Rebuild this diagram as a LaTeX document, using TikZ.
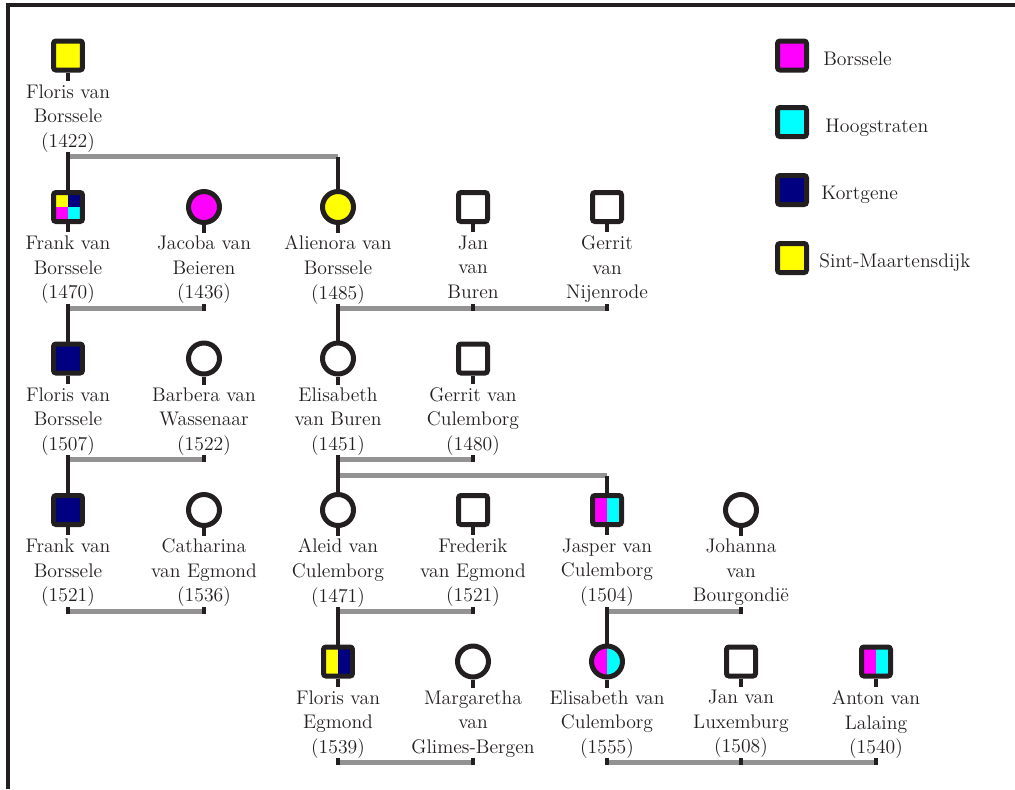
\documentclass[tikz,border=0pt]{standalone}
\usepackage{tikz}

\definecolor{borssele}{RGB}{255,0,255}
\definecolor{hoogstraten}{RGB}{0,255,255}
\definecolor{kortgene}{RGB}{0,0,128}
\definecolor{sintmaartensdijk}{RGB}{255,255,0}
\definecolor{inkt}{RGB}{35,31,32}
\definecolor{huwelijk}{RGB}{147,147,147}

\begin{document}
\begin{tikzpicture}[x=0.02cm, y=-0.02cm,
	man/.style = {draw=inkt, line width=1mm, rectangle, rounded corners=0.5mm, minimum size=5.8mm, inner sep=0pt},
	vrouw/.style = {draw=inkt, line width=1mm, circle, minimum size=6.2mm, inner sep=0pt},
	naam/.style = {anchor=north, align=center, inner sep=0pt, text=inkt, font=\fontsize{11.2}{14}\selectfont, execute at begin node=\strut},
	legenda/.style = {anchor=base west, inner sep=0pt, text=inkt, font=\fontsize{11.2}{14}\selectfont},
	huw/.style = {draw=huwelijk, line width=1mm},
	lijn/.style = {draw=inkt, line width=0.8mm},]
		\useasboundingbox (0,0) rectangle (1015,789);
		\draw[inkt, line width=0.8mm] (8,789) -- (8,5) -- (1015,5);

		% gedeelde kleuren
		\fill[sintmaartensdijk] (53.5,192.5) rectangle (68,207);
		\fill[kortgene] (68,192.5) rectangle (82.5,207);
		\fill[borssele] (53.5,207) rectangle (68,221.5);
		\fill[hoogstraten] (68,207) rectangle (82.5,221.5);
		\fill[borssele] (592.5,495.5) rectangle (607,524.5);
		\fill[hoogstraten] (607,495.5) rectangle (621.5,524.5);
		\fill[sintmaartensdijk] (323.5,647) rectangle (338,676);
		\fill[kortgene] (338,647) rectangle (352.5,676);
		\fill[borssele] (861.5,647) rectangle (876,676);
		\fill[hoogstraten] (876,647) rectangle (890.5,676);
		\begin{scope}
			\clip (607,661.5) circle[radius=15.5];
			\fill[borssele] (590,645) rectangle (607,678);
			\fill[hoogstraten] (607,645) rectangle (624,678);
		\end{scope}

		\node[man, fill=sintmaartensdijk] (floris1) at (68,55.5) {};
		\node[naam] (floris1-t) at (68,84) {Floris van\\Borssele\\(1422)};

		\node[man] (frank1) at (68,207) {};
		\node[naam] (frank1-t) at (68,235.5) {Frank van\\Borssele\\(1470)};
		\node[vrouw, fill=borssele] (jacoba) at (204,207) {};
		\node[naam] (jacoba-t) at (204,235.5) {Jacoba van\\Beieren\\(1436)};
		\node[vrouw, fill=sintmaartensdijk] (alienora) at (338,207) {};
		\node[naam] (alienora-t) at (338,235.5) {Alienora van\\Borssele\\(1485)};
		\node[man, fill=white] (janburen) at (473,207) {};
		\node[naam] (janburen-t) at (473,235.5) {Jan\\van\\Buren};
		\node[man, fill=white] (gerritn) at (607,207) {};
		\node[naam] (gerritn-t) at (607,235.5) {Gerrit\\van\\Nijenrode};

		\node[man, fill=kortgene] (floris2) at (68,358.5) {};
		\node[naam] (floris2-t) at (68,387) {Floris van\\Borssele\\(1507)};
		\node[vrouw, fill=white] (barbera) at (204,358.5) {};
		\node[naam] (barbera-t) at (204,387) {Barbera van\\Wassenaar\\(1522)};
		\node[vrouw, fill=white] (elisabeth1) at (338,358.5) {};
		\node[naam] (elisabeth1-t) at (338,387) {Elisabeth\\van Buren\\(1451)};
		\node[man, fill=white] (gerritc) at (473,358.5) {};
		\node[naam] (gerritc-t) at (473,387) {Gerrit van\\Culemborg\\(1480)};

		\node[man, fill=kortgene] (frank2) at (68,510) {};
		\node[naam] (frank2-t) at (68,538.5) {Frank van\\Borssele\\(1521)};
		\node[vrouw, fill=white] (catharina) at (204,510) {};
		\node[naam] (catharina-t) at (204,538.5) {Catharina\\van Egmond\\(1536)};
		\node[vrouw, fill=white] (aleid) at (338,510) {};
		\node[naam] (aleid-t) at (338,538.5) {Aleid van\\Culemborg\\(1471)};
		\node[man, fill=white] (frederik) at (473,510) {};
		\node[naam] (frederik-t) at (473,538.5) {Frederik\\van Egmond\\(1521)};
		\node[man] (jasper) at (607,510) {};
		\node[naam] (jasper-t) at (607,538.5) {Jasper van\\Culemborg\\(1504)};
		\node[vrouw, fill=white] (johanna) at (741,510) {};
		\node[naam] (johanna-t) at (741,538.5) {Johanna\\van\\Bourgondië};

		\node[man] (floris3) at (338,661.5) {};
		\node[naam] (floris3-t) at (338,690) {Floris van\\Egmond\\(1539)};
		\node[vrouw, fill=white] (margaretha) at (473,661.5) {};
		\node[naam] (margaretha-t) at (473,690) {Margaretha\\van\\Glimes-Bergen};
		\node[vrouw] (elisabeth2) at (607,661.5) {};
		\node[naam] (elisabeth2-t) at (607,690) {Elisabeth van\\Culemborg\\(1555)};
		\node[man, fill=white] (janlux) at (741,661.5) {};
		\node[naam] (janlux-t) at (741,690) {Jan van\\Luxemburg\\(1508)};
		\node[man] (anton) at (876,661.5) {};
		\node[naam] (anton-t) at (876,690) {Anton van\\Lalaing\\(1540)};

		\foreach \p in {floris1, frank1, jacoba, alienora, janburen, gerritn, floris2, barbera, elisabeth1, gerritc, frank2, catharina, aleid, frederik, jasper, johanna, floris3, margaretha, elisabeth2, janlux, anton}
			\draw[lijn] (\p.south) -- ++(0,8);

		\foreach \p in {floris1, frank1, jacoba, alienora, janburen, gerritn, floris2, barbera, elisabeth1, gerritc, frank2, catharina, aleid, frederik, jasper, johanna, floris3, margaretha, elisabeth2, janlux, anton}
			\path (\p) ++(0,101) coordinate (\p-h);
		\path (elisabeth1) ++(0,117) coordinate (elisabeth1-h2);
		\coordinate (alienora-k) at (floris1-h -| alienora);
		\coordinate (jasper-k) at (elisabeth1-h2 -| jasper);

		\draw[huw] (floris1-h) -- (alienora-k);
		\draw[huw] (frank1-h) -- (jacoba-h);
		\draw[huw] (alienora-h) -- (gerritn-h);
		\draw[huw] (floris2-h) -- (barbera-h);
		\draw[huw] (elisabeth1-h) -- (gerritc-h);
		\draw[huw] (elisabeth1-h2) -- (jasper-k);
		\draw[huw] (frank2-h) -- (catharina-h);
		\draw[huw] (aleid-h) -- (frederik-h);
		\draw[huw] (jasper-h) -- (johanna-h);
		\draw[huw] (floris3-h) -- (margaretha-h);
		\draw[huw] (elisabeth2-h) -- (anton-h);

		\foreach \p in {floris1, frank1, jacoba, alienora, janburen, gerritn, floris2, barbera, elisabeth1, gerritc, frank2, catharina, aleid, frederik, jasper, johanna, floris3, margaretha, elisabeth2, janlux, anton}
			\draw[lijn] ([yshift=-0.05cm]\p-h) -- ++(0,-7);

		\draw[lijn] (floris1-h) -- (frank1.north);
		\draw[lijn] (alienora-k) -- (alienora.north);
		\draw[lijn] (frank1-h) -- (floris2.north);
		\draw[lijn] (alienora-h) -- (elisabeth1.north);
		\draw[lijn] (floris2-h) -- (frank2.north);
		\draw[lijn] (elisabeth1-h) -- (aleid.north);
		\draw[lijn] (jasper-k) -- (jasper.north);
		\draw[lijn] (aleid-h) -- (floris3.north);
		\draw[lijn] (jasper-h) -- (elisabeth2.north);

		\node[man, fill=borssele] (borssele) at (792,55.5) {};
		\node[legenda] (borssele-t) at (823,65) {Borssele};
		\node[man, fill=hoogstraten] (hoogstraten) at (792,122) {};
		\node[legenda] (hoogstraten-t) at (825,132.5) {Hoogstraten};
		\node[man, fill=kortgene] (kortgene) at (792,190) {};
		\node[legenda] (kortgene-t) at (821,199.5) {Kortgene};
		\node[man, fill=sintmaartensdijk] (sintmaartensdijk) at (792,258) {};
		\node[legenda] (sintmaartensdijk-t) at (819,267.5) {Sint-Maartensdijk};
	\end{tikzpicture}
\end{document}
